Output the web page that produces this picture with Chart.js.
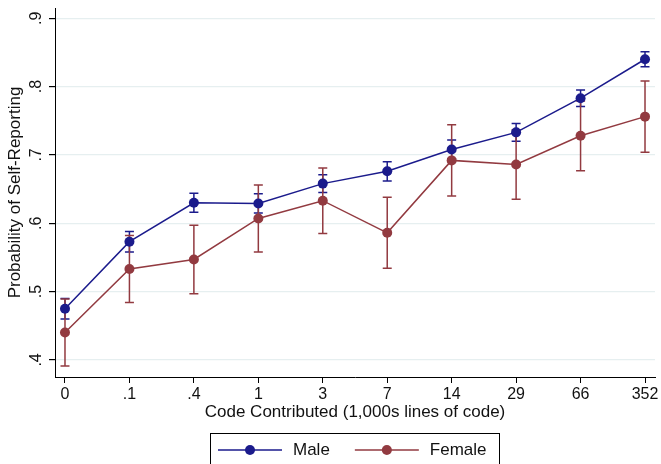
<!DOCTYPE html>
<html>
<head>
<meta charset="utf-8">
<script src="https://cdn.jsdelivr.net/npm/chart.js@4"></script>
<style>
  html, body { margin: 0; padding: 0; background: #fff; }
  #wrap { width: 661px; height: 464px; }
</style>
</head>
<body>
<div id="wrap"><canvas id="chart" width="661" height="464"></canvas></div>
<script>
// data
const categories = ['0', '.1', '.4', '1', '3', '7', '14', '29', '66', '352'];
const maleProb = [0.475, 0.573, 0.630, 0.629, 0.658, 0.676, 0.708, 0.733, 0.783, 0.840];
const maleErr = [0.015, 0.015, 0.014, 0.014, 0.013, 0.014, 0.014, 0.013, 0.012, 0.011];
const femaleProb = [0.440, 0.533, 0.547, 0.607, 0.633, 0.586, 0.692, 0.686, 0.728, 0.756];
const femaleErr = [0.049, 0.049, 0.050, 0.049, 0.048, 0.052, 0.052, 0.051, 0.051, 0.052];
const yTicks = [0.4, 0.5, 0.6, 0.7, 0.8, 0.9];
const yTickLabels = ['.4', '.5', '.6', '.7', '.8', '.9'];

const FONT = "'Liberation Sans', Arial, Helvetica, sans-serif";
const NAVY = '#1b1b8c';
const MAROON = '#923a40';

const toPoints = arr => arr.map((v, i) => ({ x: i, y: v }));

// error caps, drawn under the lines
const errorBars = {
  id: 'errorBars',
  beforeDatasetsDraw(chart) {
    const { ctx, scales: { x, y } } = chart;
    ctx.save();
    chart.data.datasets.forEach(ds => {
      ctx.strokeStyle = ds.borderColor;
      ctx.lineWidth = 1.5;
      ds.data.forEach((p, i) => {
        const e = ds.errors[i];
        const px = x.getPixelForValue(p.x);
        const top = y.getPixelForValue(p.y + e);
        const bot = y.getPixelForValue(p.y - e);
        ctx.beginPath();
        ctx.moveTo(px, top); ctx.lineTo(px, bot);
        ctx.moveTo(px - 4.5, top); ctx.lineTo(px + 4.5, top);
        ctx.moveTo(px - 4.5, bot); ctx.lineTo(px + 4.5, bot);
        ctx.stroke();
      });
    });
    ctx.restore();
  }
};

// boxed legend at the bottom, line with a dot for each series
const boxLegend = {
  id: 'boxLegend',
  afterDraw(chart) {
    const { ctx } = chart;
    const boxLeft = 210, boxTop = 433, boxRight = 499;
    ctx.save();
    ctx.strokeStyle = '#000';
    ctx.lineWidth = 1;
    ctx.strokeRect(boxLeft + 0.5, boxTop + 0.5, boxRight - boxLeft, 60);
    ctx.font = '17px ' + FONT;
    ctx.textBaseline = 'middle';
    const rowY = 450;
    let cx = 218;
    chart.data.datasets.forEach(ds => {
      ctx.strokeStyle = ds.borderColor;
      ctx.fillStyle = ds.borderColor;
      ctx.lineWidth = 1.5;
      ctx.beginPath();
      ctx.moveTo(cx, rowY); ctx.lineTo(cx + 64, rowY);
      ctx.stroke();
      ctx.beginPath();
      ctx.arc(cx + 32, rowY, 5, 0, Math.PI * 2);
      ctx.fill();
      ctx.fillStyle = '#111';
      ctx.fillText(ds.label, cx + 75, rowY);
      cx += 75 + ctx.measureText(ds.label).width + 25;
    });
    ctx.restore();
  }
};

new Chart(document.getElementById('chart'), {
  type: 'line',
  data: {
    datasets: [
      {
        label: 'Male',
        data: toPoints(maleProb),
        errors: maleErr,
        borderColor: NAVY,
        backgroundColor: NAVY,
        borderWidth: 1.5,
        pointRadius: 5,
        pointBorderWidth: 0,
        pointBackgroundColor: NAVY,
        order: 1,
      },
      {
        label: 'Female',
        data: toPoints(femaleProb),
        errors: femaleErr,
        borderColor: MAROON,
        backgroundColor: MAROON,
        borderWidth: 1.5,
        pointRadius: 5,
        pointBorderWidth: 0,
        pointBackgroundColor: MAROON,
        order: 0,
      },
    ],
  },
  options: {
    responsive: false,
    animation: false,
    layout: { padding: { top: 8, left: 0, right: 6, bottom: 41 } },
    plugins: {
      legend: { display: false },
      tooltip: { enabled: false },
    },
    scales: {
      x: {
        type: 'linear',
        min: -0.155,
        max: 9.155,
        afterBuildTicks: s => { s.ticks = categories.map((c, i) => ({ value: i })); },
        afterFit: s => { s.height = 46; },
        ticks: {
          callback: v => categories[v],
          color: '#111',
          font: { family: FONT, size: 16 },
          padding: 2,
          maxRotation: 0,
          autoSkip: false,
        },
        grid: { drawOnChartArea: false, drawTicks: true, tickLength: 6, tickColor: '#000' },
        border: { display: true, color: '#000', width: 1 },
        title: {
          display: true,
          text: 'Code Contributed (1,000s lines of code)',
          color: '#111',
          font: { family: FONT, size: 17 },
          padding: { top: 0, bottom: 0 },
        },
      },
      y: {
        min: 0.375,
        max: 0.915,
        afterBuildTicks: s => { s.ticks = yTicks.map(v => ({ value: v })); },
        afterFit: s => { s.width = 55; s.paddingTop = 0; s.paddingBottom = 0; },
        ticks: {
          callback: (v, i) => yTickLabels[i],
          color: '#111',
          font: { family: FONT, size: 16 },
          minRotation: 90,
          maxRotation: 90,
          crossAlign: 'center',
          padding: 6,
        },
        grid: { color: '#e6eff0', lineWidth: 1.2, drawTicks: true, tickLength: 6, tickColor: '#000' },
        border: { display: true, color: '#000', width: 1 },
        title: {
          display: true,
          text: 'Probability of Self-Reporting',
          color: '#111',
          font: { family: FONT, size: 17 },
          padding: { top: 5, bottom: 0 },
        },
      },
    },
  },
  plugins: [errorBars, boxLegend],
});
</script>
</body>
</html>
